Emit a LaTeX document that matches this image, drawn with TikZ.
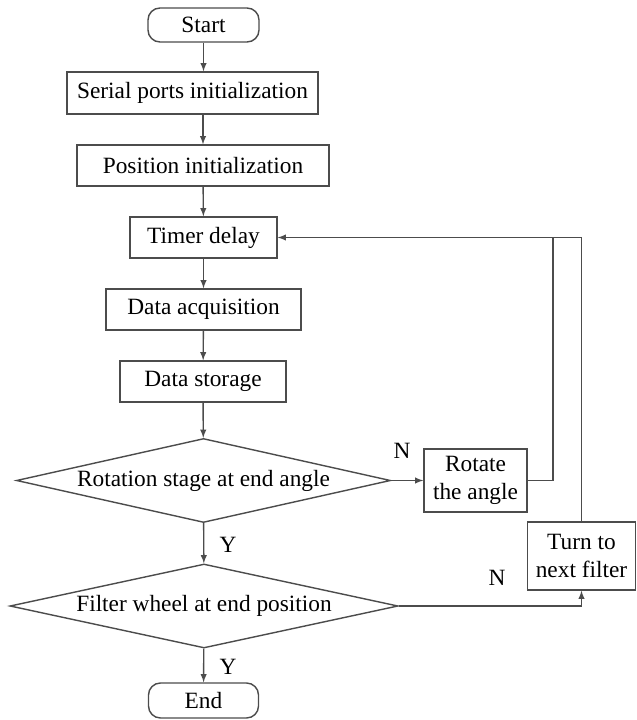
\documentclass[tikz,border=0pt]{standalone}
\usepackage{fontspec}
\setmainfont{Liberation Serif}
\usetikzlibrary{shapes.geometric}

\tikzset{
	box/.style={draw, text=black, minimum height=1.025cm, inner sep=0pt},
	term/.style={box, rounded corners=0.3cm},
	decide/.style={diamond, draw, text=black, aspect=4.45, inner sep=0pt},
	lbl/.style={text=black, inner sep=0pt}
}

\begin{document}
\begin{tikzpicture}[x=0.025cm, y=-0.025cm, black!70, line width=1pt, font=\fontsize{16.6pt}{20pt}\selectfont]
	\useasboundingbox (0, 0) rectangle (636, 720);
	\node[term, minimum width=2.775cm, minimum height=0.85cm] (start) at (203.5, 25) {Start};
	\node[box, minimum width=6.275cm, minimum height=1.05cm] (serial) at (192.5, 93) {Serial ports initialization};
	\node[box, minimum width=6.3cm] (posinit) at (203, 165.5) {Position initialization};
	\node[box, minimum width=3.675cm] (timer) at (203.5, 237.5) {Timer delay};
	\node[box, minimum width=4.875cm] (acq) at (203.5, 309.5) {Data acquisition};
	\node[box, minimum width=4.15cm] (storage) at (203, 381.5) {Data storage};
	\node[decide, minimum width=9.35cm, minimum height=2.1cm] (angle) at (203.5, 480.5) {Rotation stage at end angle};
	\node[decide, minimum width=9.7cm, minimum height=2.1cm, aspect=4.6] (wheel) at (204, 606) {Filter wheel at end position};
	\node[term, minimum width=2.75cm, minimum height=0.875cm] (end) at (203.5, 700.5) {End};
	\node[box, minimum width=2.575cm, minimum height=1.575cm, align=center] (rotate) at (475.5, 480.5) {Rotate\\the angle};
	\node[box, minimum width=2.7cm, minimum height=1.7cm, align=center] (turn) at (581.5, 556) {Turn to\\next filter};
	\coordinate (loop) at (553, 237.5);
	\node[lbl] (n1) at (402, 451) {N};
	\node[lbl] (n2) at (497, 578) {N};
	\node[lbl] (y1) at (228, 545) {Y};
	\node[lbl] (y2) at (228, 667) {Y};
	\draw[-latex] (start) -- (start |- serial.north);
	\draw[-latex] (posinit.north |- serial.south) -- (posinit.north);
	\draw[-latex] (posinit) -- (timer);
	\draw[-latex] (timer) -- (acq);
	\draw[-latex] (acq) -- (storage);
	\draw[-latex] (storage) -- (angle);
	\draw[-latex] (angle) -- (wheel);
	\draw[-latex] (wheel) -- (end);
	\draw[-latex] (angle.east) -- (rotate.west);
	\draw[-latex] (rotate.east) -| (loop) -- (timer.east);
	\draw (turn.north) |- (loop);
	\draw[-latex] (wheel.east) -| (turn.south);
\end{tikzpicture}
\end{document}
